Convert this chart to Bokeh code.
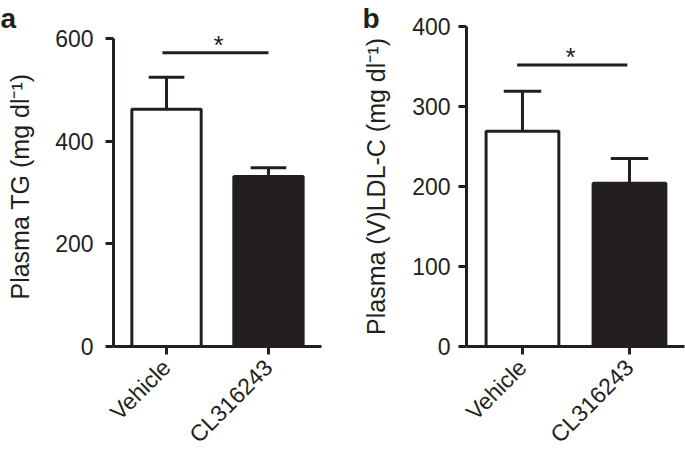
from bokeh.plotting import figure
from bokeh.layouts import row
from bokeh.models import Range1d, FixedTicker, Label, ColumnDataSource
from bokeh.embed import file_html
from bokeh.resources import INLINE

categories = ["Vehicle", "CL316243"]
tg_mean = [462, 331]
tg_sem = [62, 17]
ldl_mean = [269, 204]
ldl_sem = [50, 31]
tg_ticks = [0, 200, 400, 600]
ldl_ticks = [0, 100, 200, 300, 400]

FONT = "Liberation Sans"
INK = "#231f20"


def panel(means, sems, ticks, yend, ylabel, letter, letter_offset, width, borders, xr,
          sig_y, sig_x, star_x, label_standoff, tick_standoff):
    bl, br, bt, bb = borders
    p = figure(width=width, height=459, output_backend="svg", toolbar_location=None,
               x_range=Range1d(*xr), y_range=Range1d(ticks[0], yend),
               min_border_left=bl, min_border_right=br, min_border_top=bt,
               min_border_bottom=bb)
    p.outline_line_color = None
    p.grid.visible = False
    xs = list(range(len(categories)))
    upper = [m + s for m, s in zip(means, sems)]
    src = ColumnDataSource(dict(x=xs, top=means, upper=upper,
                                fill=["white", INK],
                                cl=[x - 0.175 for x in xs], cr=[x + 0.175 for x in xs]))
    p.segment(x0="x", y0="top", x1="x", y1="upper", source=src,
              line_color=INK, line_width=3)
    p.segment(x0="cl", y0="upper", x1="cr", y1="upper", source=src,
              line_color=INK, line_width=3)
    p.vbar(x="x", top="top", bottom=0, width=0.68, source=src, fill_color="fill",
           line_color=INK, line_width=3)
    p.segment(x0=[sig_x[0]], y0=[sig_y], x1=[sig_x[1]], y1=[sig_y],
              line_color=INK, line_width=3)
    p.add_layout(Label(x=star_x, y=sig_y, text="*", text_font=FONT, text_font_size="26px",
                       text_align="center", text_baseline="alphabetic", y_offset=8,
                       text_color=INK))

    p.title.text = letter
    p.title.align = "left"
    p.title.offset = letter_offset
    p.title.standoff = -14
    p.title.text_font = FONT
    p.title.text_font_size = "28px"
    p.title.text_font_style = "bold"
    p.title.text_color = INK

    p.yaxis.ticker = FixedTicker(ticks=ticks)
    p.yaxis.bounds = (ticks[0], ticks[-1])
    p.xaxis.ticker = FixedTicker(ticks=xs)
    p.xaxis.major_label_overrides = {i: c for i, c in enumerate(categories)}
    p.xaxis.major_label_orientation = 0.785398
    for ax in (p.xaxis, p.yaxis):
        ax.axis_line_width = 3
        ax.axis_line_color = INK
        ax.major_tick_line_width = 3
        ax.major_tick_line_color = INK
        ax.major_tick_out = 8
        ax.major_tick_in = 0
        ax.minor_tick_line_color = None
        ax.major_label_text_font = FONT
        ax.major_label_text_font_size = "23px"
        ax.major_label_text_color = INK
    p.yaxis.major_label_standoff = tick_standoff
    p.xaxis.major_label_standoff = 9
    p.yaxis.axis_label = ylabel
    p.yaxis.axis_label_text_font = FONT
    p.yaxis.axis_label_text_font_size = "25px"
    p.yaxis.axis_label_text_font_style = "normal"
    p.yaxis.axis_label_text_color = INK
    p.yaxis.axis_label_standoff = label_standoff
    return p


pa = panel(tg_mean, tg_sem, tg_ticks, 623, "Plasma TG (mg dl\u207b\u00b9)", "a", -113, 343,
           (113, 22, 26, 112), (-0.52, 1.52), 572, (-0.04, 1.0), 0.51, 18, 12)
pb = panel(ldl_mean, ldl_sem, ldl_ticks, 400, "Plasma (V)LDL-C (mg dl\u207b\u00b9)", "b", -104,
           342, (123, 1, 26, 112), (-0.523, 1.514), 352, (-0.05, 0.98), 0.45, 19, 8)

layout = row(pa, pb)
open("out.html", "w").write(file_html(layout, INLINE))
